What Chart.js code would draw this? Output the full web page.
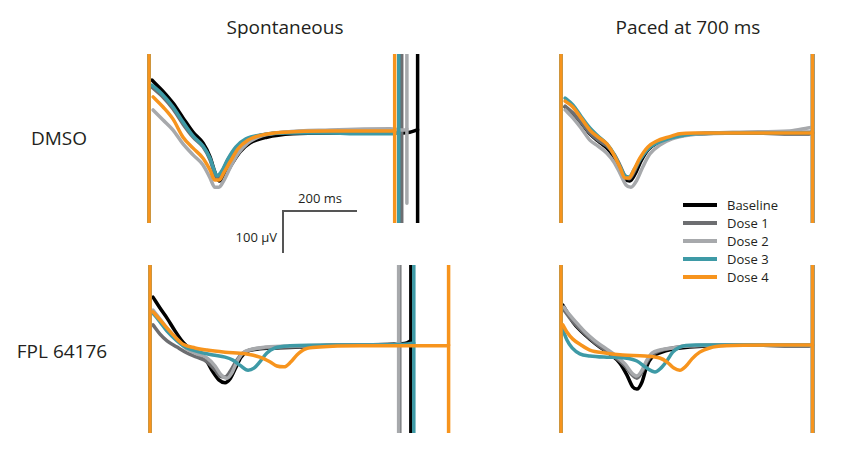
<!DOCTYPE html>
<html>
<head>
<meta charset="utf-8">
<script src="https://cdn.jsdelivr.net/npm/chart.js@4.4.1/dist/chart.umd.min.js"></script>
<style>
  body { margin: 0; background: #fff; font-family: "Open Sans", sans-serif; color: #231f20; }
  #page { position: relative; width: 848px; height: 458px; overflow: hidden; }
  canvas { position: absolute; }
  .lbl { position: absolute; white-space: nowrap; }
  .title { font-size: 19px; transform: translate(-50%, -50%); }
  .small { font-size: 13px; }
  .bar { position: absolute; background: #555; }
  .legline { position: absolute; height: 4px; width: 34px; }
</style>
</head>
<body>
<div id="page">
  <div class="lbl title" style="left:285px; top:27px;">Spontaneous</div>
  <div class="lbl title" style="left:688px; top:27px;">Paced at 700 ms</div>
  <div class="lbl title" style="left:59px; top:138px;">DMSO</div>
  <div class="lbl title" style="left:62px; top:351px;">FPL 64176</div>

  <div class="bar" style="left:283px; top:210px; width:74px; height:2px;"></div>
  <div class="bar" style="left:282px; top:210px; width:2px; height:43px;"></div>
  <div class="lbl small" style="left:320px; top:198px; transform:translate(-50%,-50%);">200 ms</div>
  <div class="lbl small" style="left:277px; top:237px; transform:translate(-100%,-50%);">100 &micro;V</div>

  <div id="legend"></div>

  <canvas id="spDmso"></canvas>
  <canvas id="paDmso"></canvas>
  <canvas id="spFpl"></canvas>
  <canvas id="paFpl"></canvas>
</div>

<script>
// Series
const seriesNames = ["Baseline", "Dose 1", "Dose 2", "Dose 3", "Dose 4"];
const seriesColors = ["#000000", "#6d6e71", "#a7a9ac", "#3e9aa6", "#f7941d"];

// Traces: [time ms after stimulus spike, field potential µV relative to plateau]

// Spontaneous, DMSO
const spDmsoBaseline = [[8,126],[35,102],[65,71],[92,36],[119,2],[146,-24],[165,-57],[178,-93],[189,-114],[203,-105],[219,-81],[246,-45],[273,-24],[319,-10],[389,-2],[489,0],[656,0],[705,2],[726,8]];
const spDmsoDose1 = [[8,109],[35,88],[65,57],[92,21],[119,-10],[146,-33],[165,-64],[176,-93],[184,-107],[197,-93],[213,-64],[235,-36],[262,-17],[300,-5],[367,2],[489,5],[664,5],[683,5]];
const spDmsoDose2 = [[11,55],[38,31],[65,7],[92,-26],[119,-52],[146,-76],[165,-107],[178,-129],[189,-129],[203,-112],[219,-83],[240,-50],[267,-24],[305,-7],[367,2],[489,7],[651,10],[691,7],[697,10]];
const spDmsoDose3 = [[8,114],[35,93],[65,62],[92,26],[119,-7],[146,-31],[165,-60],[176,-88],[184,-102],[197,-90],[213,-62],[235,-33],[262,-14],[300,-5],[367,0],[489,0],[570,-2],[656,-2],[675,0]];
const spDmsoDose4 = [[11,86],[38,62],[65,33],[92,-10],[119,-36],[146,-60],[165,-88],[178,-112],[189,-112],[203,-93],[219,-69],[240,-38],[267,-17],[305,-5],[367,2],[489,5],[656,5],[664,5]];
const spDmsoEnd = [726, 683, 697, 675, 664];
const spDmsoEndLow = [-999, -999, -167, -999, -999];

// Paced at 700 ms, DMSO
const paDmsoBaseline = [[11,62],[32,45],[54,24],[78,-2],[100,-19],[124,-36],[143,-57],[159,-83],[176,-112],[186,-114],[200,-98],[216,-67],[235,-40],[259,-24],[289,-14],[321,-7],[362,-2],[483,0],[667,-2],[680,0]];
const paDmsoDose1 = [[11,64],[32,48],[54,26],[78,0],[100,-17],[124,-31],[143,-50],[159,-76],[173,-102],[184,-109],[197,-93],[213,-64],[235,-38],[259,-21],[289,-12],[321,-5],[362,-2],[483,0],[667,2],[680,2]];
const paDmsoDose2 = [[11,55],[32,36],[54,12],[78,-17],[100,-31],[124,-48],[143,-69],[159,-95],[176,-124],[189,-129],[205,-112],[221,-81],[240,-50],[267,-29],[300,-14],[348,-5],[483,2],[618,5],[667,12],[680,14]];
const paDmsoDose3 = [[11,83],[32,67],[54,40],[78,12],[100,-7],[124,-26],[143,-50],[159,-79],[173,-102],[184,-105],[197,-88],[213,-64],[235,-38],[259,-24],[289,-14],[321,-7],[362,-2],[483,0],[667,0],[680,0]];
const paDmsoDose4 = [[11,76],[32,62],[54,36],[78,7],[100,-10],[124,-26],[143,-52],[159,-81],[173,-107],[184,-107],[197,-88],[213,-60],[235,-33],[259,-19],[289,-10],[321,-2],[362,0],[483,0],[667,0],[680,0]];
const paDmsoEnd = [680, 680, 680, 680, 680];
const paDmsoEndLow = [-999, -999, -999, -999, -999];

// Spontaneous, FPL 64176
const spFplBaseline = [[8,114],[27,88],[46,64],[68,33],[89,7],[113,-12],[135,-24],[154,-40],[170,-64],[186,-83],[203,-90],[216,-81],[230,-57],[246,-29],[265,-14],[289,-10],[338,-7],[405,-5],[513,0],[656,2],[694,5],[705,10]];
const spFplDose1 = [[8,48],[27,26],[46,10],[73,-5],[100,-19],[127,-29],[154,-40],[176,-60],[189,-74],[203,-76],[216,-64],[232,-40],[248,-21],[270,-12],[302,-7],[378,-5],[513,0],[662,2],[675,5]];
const spFplDose2 = [[8,83],[27,62],[46,40],[73,14],[100,-10],[127,-21],[154,-31],[176,-50],[192,-71],[208,-79],[221,-67],[235,-40],[251,-19],[275,-10],[311,-5],[405,-2],[513,0],[656,0],[672,5]];
const spFplDose3 = [[8,76],[27,55],[46,33],[73,10],[100,-7],[135,-17],[170,-24],[203,-29],[224,-36],[243,-48],[265,-60],[281,-55],[297,-40],[316,-19],[338,-7],[378,-2],[513,0],[689,2],[713,5]];
const spFplDose4 = [[8,79],[27,60],[46,40],[68,19],[89,2],[122,-7],[154,-12],[203,-17],[257,-21],[297,-29],[324,-40],[343,-50],[362,-52],[381,-40],[397,-24],[419,-10],[459,-5],[567,-2],[802,-2],[807,0]];
const spFplEnd = [705, 675, 672, 713, 807];
const spFplEndLow = [-999, -999, -999, -999, -999];

// Paced at 700 ms, FPL 64176
const paFplBaseline = [[5,95],[16,79],[32,55],[54,33],[78,14],[105,-5],[132,-21],[159,-43],[178,-71],[194,-100],[205,-105],[219,-88],[232,-50],[246,-29],[267,-19],[300,-10],[348,-5],[483,0],[667,-2],[680,0]];
const paFplDose1 = [[8,83],[24,64],[43,45],[65,26],[92,5],[119,-12],[146,-29],[173,-50],[192,-71],[205,-79],[219,-64],[232,-40],[246,-24],[267,-14],[300,-7],[348,-2],[483,0],[667,-2],[680,0]];
const paFplDose2 = [[8,90],[24,71],[43,52],[65,31],[92,10],[119,-7],[146,-24],[173,-45],[192,-67],[205,-74],[219,-60],[232,-36],[246,-19],[267,-12],[300,-7],[348,-2],[483,0],[667,0],[680,0]];
const paFplDose3 = [[5,36],[16,12],[30,-7],[51,-21],[78,-26],[124,-29],[173,-31],[205,-38],[232,-55],[254,-64],[270,-55],[286,-38],[302,-17],[321,-5],[362,0],[483,0],[667,0],[680,0]];
const paFplDose4 = [[5,48],[16,31],[32,14],[54,0],[78,-12],[119,-19],[167,-24],[227,-26],[267,-31],[286,-40],[305,-55],[321,-60],[338,-50],[354,-33],[375,-17],[402,-7],[443,-2],[564,0],[667,0],[680,0]];
const paFplEnd = [680, 680, 680, 680, 680];
const paFplEndLow = [-999, -999, -999, -999, -999];

// Figure geometry
const MS_PER_PX = 200 / 74;
const UV_PER_PX = 100 / 42;
const SPIKE_HIGH = 999;

function drawPanel(canvasId, box, traces, endTimes, endLows) {
    const canvas = document.getElementById(canvasId);
    canvas.width = box.width;
    canvas.height = box.height;
    canvas.style.left = box.left + "px";
    canvas.style.top = box.top + "px";

    const datasets = [];

    traces.forEach((trace, i) => {
        const color = seriesColors[i];
        datasets.push({
            data: trace.map(p => ({ x: p[0], y: p[1] })),
            borderColor: color,
            borderWidth: 3.5,
            cubicInterpolationMode: "monotone",
            order: 2 * (4 - i)
        });
        datasets.push({
            data: [
                { x: 0, y: SPIKE_HIGH }, { x: 0, y: -SPIKE_HIGH },
                { x: endTimes[i], y: null },
                { x: endTimes[i], y: SPIKE_HIGH }, { x: endTimes[i], y: endLows[i] }
            ],
            borderColor: color,
            borderWidth: 3.5,
            tension: 0,
            spanGaps: false,
            order: 2 * (4 - i) + 1
        });
    });

    new Chart(canvas, {
        type: "line",
        data: { datasets: datasets },
        options: {
            responsive: false,
            animation: false,
            devicePixelRatio: 1,
            layout: { padding: 0 },
            elements: { point: { radius: 0 }, line: { borderCapStyle: "round", borderJoinStyle: "round" } },
            plugins: { legend: { display: false }, tooltip: { enabled: false } },
            scales: {
                x: {
                    type: "linear", display: false,
                    min: (box.left - box.originX) * MS_PER_PX,
                    max: (box.left + box.width - box.originX) * MS_PER_PX
                },
                y: {
                    type: "linear", display: false,
                    min: (box.baseY - box.top - box.height) * UV_PER_PX,
                    max: (box.baseY - box.top) * UV_PER_PX
                }
            }
        }
    });
}

drawPanel("spDmso", { left: 130, top: 54, width: 340, height: 169, originX: 149, baseY: 133 },
    [spDmsoBaseline, spDmsoDose1, spDmsoDose2, spDmsoDose3, spDmsoDose4], spDmsoEnd, spDmsoEndLow);
drawPanel("paDmso", { left: 540, top: 54, width: 300, height: 169, originX: 561, baseY: 133 },
    [paDmsoBaseline, paDmsoDose1, paDmsoDose2, paDmsoDose3, paDmsoDose4], paDmsoEnd, paDmsoEndLow);
drawPanel("spFpl", { left: 130, top: 265, width: 340, height: 168, originX: 150, baseY: 345 },
    [spFplBaseline, spFplDose1, spFplDose2, spFplDose3, spFplDose4], spFplEnd, spFplEndLow);
drawPanel("paFpl", { left: 540, top: 265, width: 300, height: 168, originX: 561, baseY: 345 },
    [paFplBaseline, paFplDose1, paFplDose2, paFplDose3, paFplDose4], paFplEnd, paFplEndLow);

// Legend
const legend = document.getElementById("legend");
seriesNames.forEach((name, i) => {
    const y = 205 + i * 18;
    const line = document.createElement("div");
    line.className = "legline";
    line.style.left = "683px";
    line.style.top = (y - 2) + "px";
    line.style.background = seriesColors[i];
    legend.appendChild(line);

    const txt = document.createElement("div");
    txt.className = "lbl small";
    txt.style.left = "727px";
    txt.style.top = y + "px";
    txt.style.transform = "translateY(-50%)";
    txt.innerHTML = name;
    legend.appendChild(txt);
});
</script>
</body>
</html>
